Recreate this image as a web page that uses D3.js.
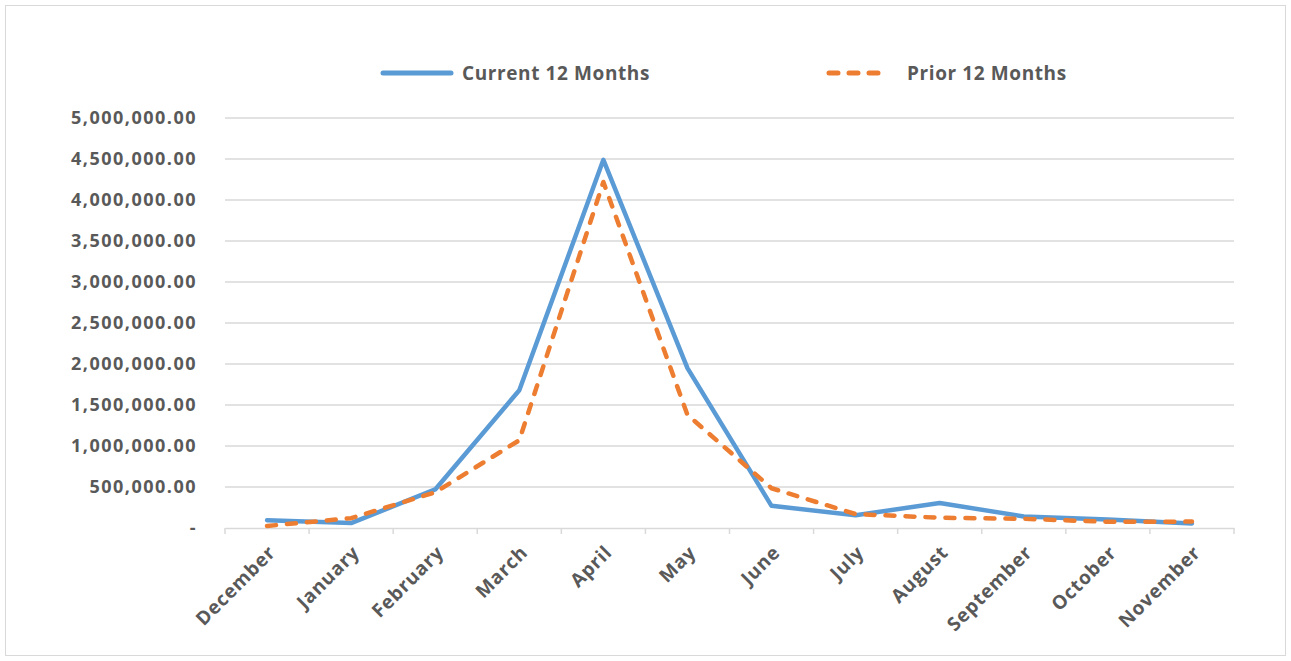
<!DOCTYPE html>
<html>
<head>
<meta charset="utf-8">
<script src="https://cdn.jsdelivr.net/npm/d3@7"></script>
<style>
  body { margin: 0; background: #fff; }
  svg text { font-family: 'Open Sans', sans-serif; font-weight: bold; fill: #595959; }
</style>
</head>
<body>
<svg id="chart" width="1291" height="661"></svg>
<script>
const months = ["December", "January", "February", "March", "April", "May", "June",
  "July", "August", "September", "October", "November"];
const current12 = [95000, 60000, 470000, 1680000, 4490000, 1950000, 270000, 155000, 305000, 140000, 105000, 55000];
const prior12 = [25000, 120000, 435000, 1070000, 4220000, 1380000, 485000, 170000, 125000, 112000, 75000, 78000];
const yTicks = [0, 500000, 1000000, 1500000, 2000000, 2500000, 3000000, 3500000, 4000000, 4500000, 5000000];
const seriesNames = ["Current 12 Months", "Prior 12 Months"];

const width = 1291, height = 661;
const margin = { left: 225, right: 57, top: 118, bottom: 133 };
const svg = d3.select("#chart");

// outer border
svg.append("rect")
  .attr("x", 5.5).attr("y", 5.5)
  .attr("width", width - 11).attr("height", height - 11)
  .attr("fill", "none").attr("stroke", "#d9d9d9").attr("stroke-width", 1);

const x = d3.scaleBand().domain(months)
  .range([margin.left, width - margin.right]);
const y = d3.scaleLinear().domain([0, 5000000])
  .range([height - margin.bottom, margin.top]);

// gridlines
svg.append("g").selectAll("line").data(yTicks.slice(1)).join("line")
  .attr("x1", margin.left).attr("x2", width - margin.right)
  .attr("y1", d => y(d)).attr("y2", d => y(d))
  .attr("stroke", "#d9d9d9").attr("stroke-width", 1.5);

// y labels
const fmt = d3.format(",.2f");
svg.append("g").selectAll("text").data(yTicks).join("text")
  .attr("x", 197).attr("y", d => y(d))
  .attr("dy", "0.35em")
  .attr("text-anchor", "end")
  .style("font-size", "18px")
  .style("letter-spacing", "1.5px")
  .text(d => d === 0 ? "-" : fmt(d));

// x axis
const xAxis = d3.axisBottom(x).tickSize(0).tickFormat("");
const gx = svg.append("g")
  .attr("transform", `translate(0,${y(0)})`)
  .call(xAxis);
gx.select(".domain").attr("stroke", "#d9d9d9").attr("stroke-width", 1.5);
const tickPos = months.map(m => x(m)).concat([x(months[months.length - 1]) + x.bandwidth()]);
gx.append("g").selectAll("line").data(tickPos).join("line")
  .attr("x1", d => d).attr("x2", d => d)
  .attr("y1", 0).attr("y2", 6)
  .attr("stroke", "#d9d9d9").attr("stroke-width", 1.5);

svg.append("g").selectAll("text").data(months).join("text")
  .attr("transform", d => `translate(${x(d) + x.bandwidth() / 2 + 5},${y(0) + 21}) rotate(-45)`)
  .attr("text-anchor", "end")
  .attr("dy", "0.35em")
  .style("font-size", "19px")
  .style("letter-spacing", "0.8px")
  .text(d => d);

// lines
const line = d3.line()
  .x((d, i) => x(months[i]) + x.bandwidth() / 2)
  .y(d => y(d));

svg.append("path").datum(current12)
  .attr("d", line)
  .attr("fill", "none").attr("stroke", "#5b9bd5")
  .attr("stroke-width", 4.5).attr("stroke-linejoin", "round").attr("stroke-linecap", "round");

svg.append("path").datum(prior12)
  .attr("d", line)
  .attr("fill", "none").attr("stroke", "#ed7d31")
  .attr("stroke-width", 4.5).attr("stroke-linejoin", "round").attr("stroke-linecap", "round")
  .attr("stroke-dasharray", "9,11");

// legend
const legend = svg.append("g");
legend.append("line")
  .attr("x1", 383).attr("x2", 451).attr("y1", 73).attr("y2", 73)
  .attr("stroke", "#5b9bd5").attr("stroke-width", 5).attr("stroke-linecap", "round");
legend.append("text").attr("x", 462).attr("y", 73).attr("dy", "0.35em")
  .style("font-size", "19px").style("letter-spacing", "0.6px").text(seriesNames[0]);
legend.append("line")
  .attr("x1", 829).attr("x2", 886).attr("y1", 73).attr("y2", 73)
  .attr("stroke", "#ed7d31").attr("stroke-width", 5).attr("stroke-linecap", "round")
  .attr("stroke-dasharray", "9,11");
legend.append("text").attr("x", 907).attr("y", 73).attr("dy", "0.35em")
  .style("font-size", "19px").style("letter-spacing", "0.6px").text(seriesNames[1]);
</script>
</body>
</html>
